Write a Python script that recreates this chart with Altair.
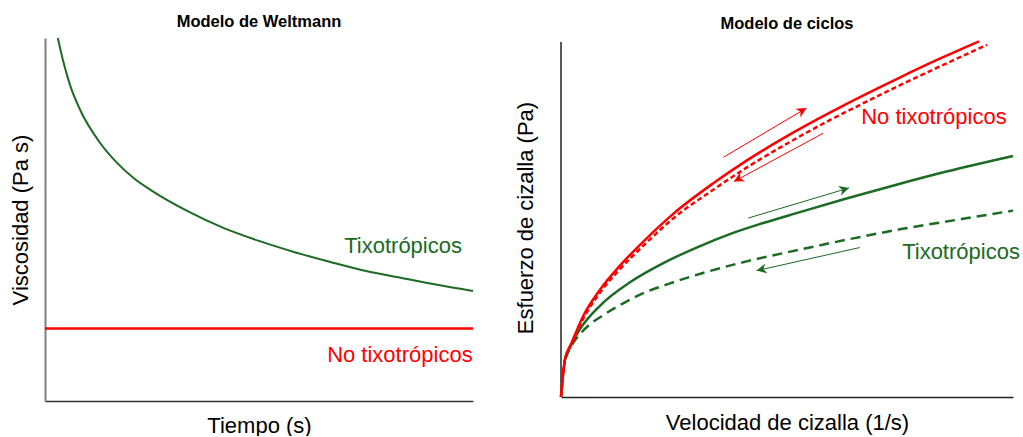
import altair as alt
import pandas as pd

FONT = "Liberation Sans"
GREEN = "#1c6b24"
RED = "#ff0000"

# ---- Left panel: Weltmann model ----
w_time = [0.36, 0.5, 0.7, 1, 1.5, 2, 2.5, 3, 4, 5, 6, 7, 8, 9, 10, 11, 12]
w_visc = [100, 94.0, 87.1, 79.9, 71.7, 65.8, 61.3, 57.9, 52.3, 47.7, 44.1, 41.0, 38.3, 35.8, 33.9, 32.0, 30.3]
nt_time = [0, 12]
nt_visc = [20, 20]

# ---- Right panel: cycle model ----
red_up_x = [0, 0.88, 2.36, 4.94, 8.62, 13.04, 18.94, 24.83, 33.68, 41.05, 49.89, 58.73, 67.58, 74.94, 83.79, 92.48]
red_up_y = [0, 10.6, 15.3, 22.9, 30.2, 37.0, 44.7, 51.6, 60.2, 66.6, 73.4, 79.6, 85.4, 90.0, 95.3, 100.2]
red_dn_x = [0, 0.88, 2.36, 4.94, 8.62, 13.04, 18.94, 24.83, 33.68, 41.05, 49.89, 58.73, 67.58, 74.94, 83.79, 94.25]
red_dn_y = [0, 10.4, 14.9, 22.1, 29.4, 36.0, 43.5, 50.3, 58.4, 64.6, 71.3, 77.5, 83.2, 87.8, 93.1, 99.2]
grn_up_x = [0, 0.88, 1.62, 4.20, 8.62, 15.25, 22.62, 29.99, 37.36, 44.73, 52.10, 63.15, 74.21, 85.26, 100]
grn_up_y = [0, 10.6, 13.0, 19.1, 25.7, 32.3, 37.7, 42.1, 45.9, 49.0, 51.8, 55.9, 59.8, 63.5, 67.9]
grn_dn_x = [0.88, 1.92, 5.23, 9.65, 14.08, 18.50, 23.66, 31.02, 41.05, 53.13, 63.15, 75.24, 88.95, 100]
grn_dn_y = [10.6, 13.5, 19.1, 23.3, 26.6, 29.4, 31.8, 34.8, 38.2, 41.6, 44.3, 47.3, 50.2, 52.5]

arrow_x1 = [35.89, 58.00, 41.42, 66.10]
arrow_y1 = [67.5, 74.3, 50.4, 42.1]
arrow_x2 = [54.31, 38.25, 63.74, 43.26]
arrow_y2 = [81.4, 60.7, 58.9, 35.6]
arrow_angle = [329.5, 151.6, 343.5, 167.3]
arrow_color = [RED, RED, GREEN, GREEN]

left_labels = ["Tixotrópicos", "No tixotrópicos"]
left_lx = [10.04, 9.95]
left_ly = [42.7, 12.7]
left_lc = [GREEN, RED]

right_labels = ["No tixotrópicos", "Tixotrópicos"]
right_lx = [82.5, 88.5]
right_ly = [78.9, 40.8]
right_lc = [RED, GREEN]

# y-axis line of the right panel runs over the data range 0..100
r_axis_y = [0, 100]

# ---------- build left ----------
xl = alt.Scale(domain=[0, 12], nice=False, zero=False)
yl = alt.Scale(domain=[0, 100], nice=False, zero=False)

df_w = pd.DataFrame({"t": w_time, "v": w_visc})
df_nt = pd.DataFrame({"t": nt_time, "v": nt_visc})
df_ll = pd.DataFrame({"x": left_lx, "y": left_ly, "label": left_labels, "c": left_lc})

x_axis_l = alt.Axis(title="Tiempo (s)", labels=False, ticks=False, grid=False,
                    domainColor="#333333", domainWidth=1.5, titleFont=FONT,
                    titleFontSize=22, titleFontWeight="normal", titlePadding=14, titleColor="#000")
y_axis_l = alt.Axis(title="Viscosidad (Pa s)", labels=False, ticks=False, grid=False,
                    domainColor="#808080", domainWidth=2, titleFont=FONT,
                    titleFontSize=22, titleFontWeight="normal", titlePadding=13, titleColor="#000")

l_green = alt.Chart(df_w).mark_line(color=GREEN, strokeWidth=2, interpolate="monotone").encode(
    x=alt.X("t:Q", scale=xl, axis=x_axis_l),
    y=alt.Y("v:Q", scale=yl, axis=y_axis_l),
)
l_red = alt.Chart(df_nt).mark_line(color=RED, strokeWidth=2.5).encode(
    x=alt.X("t:Q", scale=xl), y=alt.Y("v:Q", scale=yl)
)
l_text = alt.Chart(df_ll).mark_text(font=FONT, fontSize=22, align="center", baseline="middle").encode(
    x=alt.X("x:Q", scale=xl), y=alt.Y("y:Q", scale=yl),
    text="label:N", color=alt.Color("c:N", scale=None),
)
left = alt.layer(l_green, l_red, l_text).properties(
    width=428, height=363,
    title=alt.TitleParams("Modelo de Weltmann", font=FONT, fontSize=16.5, fontWeight="bold",
                          color="#000", offset=4),
)

# ---------- build right ----------
xr = alt.Scale(domain=[0, 100], nice=False, zero=False)
yr = alt.Scale(domain=[0, 101.13], nice=False, zero=False)

x_axis_r = alt.Axis(title="Velocidad de cizalla (1/s)", labels=False, ticks=False, grid=False,
                    domainColor="#222222", domainWidth=1.5, titleFont=FONT,
                    titleFontSize=22, titleFontWeight="normal", titlePadding=15, titleColor="#000")
y_axis_r = alt.Axis(title="Esfuerzo de cizalla (Pa)", labels=False, ticks=False, grid=False,
                    domain=False, titleFont=FONT,
                    titleFontSize=22, titleFontWeight="normal", titlePadding=24, titleColor="#000")

def curve(xs, ys, color, dash=None, first=False):
    df = pd.DataFrame({"x": xs, "y": ys})
    kw = dict(color=color, strokeWidth=2.5, interpolate="monotone")
    if dash:
        kw["strokeDash"] = dash
    if first:
        enc = dict(x=alt.X("x:Q", scale=xr, axis=x_axis_r), y=alt.Y("y:Q", scale=yr, axis=y_axis_r))
    else:
        enc = dict(x=alt.X("x:Q", scale=xr), y=alt.Y("y:Q", scale=yr))
    return alt.Chart(df).mark_line(**kw).encode(**enc)

df_ax = pd.DataFrame({"x": [0, 0], "y": r_axis_y})
r_axis = alt.Chart(df_ax).mark_line(color="#222222", strokeWidth=1.5).encode(
    x=alt.X("x:Q", scale=xr), y=alt.Y("y:Q", scale=yr)
)

r_gdn = curve(grn_dn_x, grn_dn_y, GREEN, dash=[10, 6], first=True)
r_gup = curve(grn_up_x, grn_up_y, GREEN)
r_rdn = curve(red_dn_x, red_dn_y, RED, dash=[5, 3])
r_rup = curve(red_up_x, red_up_y, RED)

df_ar = pd.DataFrame({"x1": arrow_x1, "y1": arrow_y1, "x2": arrow_x2, "y2": arrow_y2,
                      "ang": arrow_angle, "c": arrow_color})
r_shaft = alt.Chart(df_ar).mark_rule(strokeWidth=1).encode(
    x=alt.X("x1:Q", scale=xr), y=alt.Y("y1:Q", scale=yr),
    x2="x2:Q", y2="y2:Q", color=alt.Color("c:N", scale=None),
)
r_head = alt.Chart(df_ar).mark_point(
    shape="M0,0 L-1,-0.5 L-0.7,0 L-1,0.5 Z", filled=True, size=400, opacity=1, strokeWidth=0
).encode(
    x=alt.X("x2:Q", scale=xr), y=alt.Y("y2:Q", scale=yr),
    angle=alt.Angle("ang:Q", scale=None), color=alt.Color("c:N", scale=None),
)

df_rl = pd.DataFrame({"x": right_lx, "y": right_ly, "label": right_labels, "c": right_lc})
r_text = alt.Chart(df_rl).mark_text(font=FONT, fontSize=22, align="center", baseline="middle").encode(
    x=alt.X("x:Q", scale=xr), y=alt.Y("y:Q", scale=yr),
    text="label:N", color=alt.Color("c:N", scale=None),
)

right = alt.layer(r_gdn, r_axis, r_gup, r_rdn, r_rup, r_shaft, r_head, r_text).properties(
    width=452, height=359,
    title=alt.TitleParams("Modelo de ciclos", font=FONT, fontSize=16.5, fontWeight="bold",
                          color="#000", offset=4),
)

chart = alt.hconcat(left, right, spacing=36).properties(
    padding={"left": 9, "top": 13, "right": 0, "bottom": 0}
).configure_view(stroke=None)

chart.save("out.html", embed_options={"renderer": "svg", "actions": False})
